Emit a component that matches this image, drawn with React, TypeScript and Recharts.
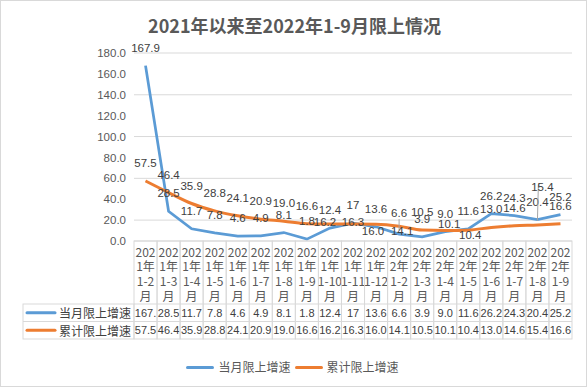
import React from 'react';
import { LineChart, Line, XAxis, YAxis, CartesianGrid, LabelList } from 'recharts';

const categories = [
  '2021年1-2月', '2021年1-3月', '2021年1-4月', '2021年1-5月', '2021年1-6月', '2021年1-7月',
  '2021年1-8月', '2021年1-9月', '2021年1-10月', '2021年1-11月', '2021年1-12月',
  '2022年1-2月', '2022年1-3月', '2022年1-4月', '2022年1-5月', '2022年1-6月', '2022年1-7月',
  '2022年1-8月', '2022年1-9月',
];
const monthly = ['167.9', '28.5', '11.7', '7.8', '4.6', '4.9', '8.1', '1.8', '12.4', '17', '13.6', '6.6', '3.9', '9.0', '11.6', '26.2', '24.3', '20.4', '25.2'];
const cumulative = ['57.5', '46.4', '35.9', '28.8', '24.1', '20.9', '19.0', '16.6', '16.2', '16.3', '16.0', '14.1', '10.5', '10.1', '10.4', '13.0', '14.6', '15.4', '16.6'];
const yTicks = [0, 20, 40, 60, 80, 100, 120, 140, 160, 180];

const seriesNames = { monthly: '当月限上增速', cumulative: '累计限上增速' };
const BLUE = '#5B9BD5';
const ORANGE = '#ED7D31';
const GRID = '#d9d9d9';
const NUM_FONT = '"Liberation Sans", Arial, sans-serif';
const CJK_FONT = '"Noto Sans CJK SC", "Noto Sans", sans-serif';

const data = categories.map((name, i) => ({
  name,
  monthly: Number(monthly[i]),
  cumulative: Number(cumulative[i]),
  monthlyText: monthly[i],
  cumulativeText: cumulative[i],
}));

const W = 587;
const H = 387;
const margin = { top: 53, right: 15, bottom: 48, left: 0 };
const Y_AXIS_W = 134;
const colW = (W - Y_AXIS_W - margin.right) / categories.length;
const headerH = 63;
const rowH = 17.5;

// hand-placed labels, like the Excel original
const nudges: Record<string, { dx: number; dy: number; leader?: boolean }> = {
  'cumulative-8': { dx: -5, dy: 16 },
  'cumulative-9': { dx: 0, dy: 16 },
  'cumulative-10': { dx: -3, dy: 25 },
  'cumulative-11': { dx: 3, dy: 23 },
  'cumulative-13': { dx: 4, dy: 12 },
  'cumulative-14': { dx: 2, dy: 23 },
  'cumulative-17': { dx: 5, dy: -20, leader: true },
  'monthly-11': { dx: 0, dy: -3, leader: true },
};

const makeLabel = (key: string) => (props: any) => {
  const vb = props.viewBox || {};
  const px = props.x ?? vb.x;
  const py = props.y ?? vb.y;
  if (px == null || py == null) return null;
  const n = nudges[`${key}-${props.index}`] || { dx: 0, dy: 0 };
  const lx = px + n.dx;
  const ly = py - 18 + n.dy;
  return (
    <g>
      {n.leader && (
        <line x1={px + (n.dx > 0 ? 1 : 0)} y1={ly + (n.dx > 0 ? -3 : 6)} x2={px} y2={py - 4} stroke="#a6a6a6" strokeWidth={1} />
      )}
      <text x={lx} y={ly} textAnchor="middle" dominantBaseline="central" fontSize={11.5} fontFamily={NUM_FONT} fill="#404040">
        {props.value}
      </text>
    </g>
  );
};

const fitCell = (s: string) => (s.length > 4 ? s.slice(0, 4) : s);

function TableTick(props: any) {
  const { x, y, payload } = props;
  const i = payload.index;
  const row = data[i];
  const left = x - colW / 2;
  const year = row.name.slice(0, 4);
  const range = row.name.slice(5, -1);
  const lines = [year.slice(0, 3), year.slice(3) + '年', range, '月'];
  const r1 = y + headerH;
  const r2 = r1 + rowH;
  const r3 = r2 + rowH;
  return (
    <g>
      <rect x={left} y={y} width={colW} height={r3 - y} fill="none" stroke={GRID} strokeWidth={1} />
      <line x1={left} x2={left + colW} y1={r1} y2={r1} stroke={GRID} />
      <line x1={left} x2={left + colW} y1={r2} y2={r2} stroke={GRID} />
      {lines.map((t, k) => (
        <text key={k} x={x} y={y + 10 + k * 14.7} textAnchor="middle" dominantBaseline="central" fontSize={12} fontFamily={CJK_FONT} fill="#595959">
          {t}
        </text>
      ))}
      <text x={x} y={r1 + rowH / 2} textAnchor="middle" dominantBaseline="central" fontSize={11} fontFamily={NUM_FONT} fill="#404040">
        {fitCell(row.monthlyText)}
      </text>
      <text x={x} y={r2 + rowH / 2} textAnchor="middle" dominantBaseline="central" fontSize={11} fontFamily={NUM_FONT} fill="#404040">
        {fitCell(row.cumulativeText)}
      </text>
      {i === 0 && (
        <g>
          <rect x={23} y={r1} width={left - 23} height={rowH * 2} fill="none" stroke={GRID} />
          <line x1={23} x2={left} y1={r2} y2={r2} stroke={GRID} />
          <line x1={27} x2={55} y1={r1 + rowH / 2} y2={r1 + rowH / 2} stroke={BLUE} strokeWidth={3} strokeLinecap="round" />
          <line x1={27} x2={55} y1={r2 + rowH / 2} y2={r2 + rowH / 2} stroke={ORANGE} strokeWidth={3} strokeLinecap="round" />
          <text x={59} y={r1 + rowH / 2} dominantBaseline="central" fontSize={12} fontFamily={CJK_FONT} fill="#404040">
            {seriesNames.monthly}
          </text>
          <text x={59} y={r2 + rowH / 2} dominantBaseline="central" fontSize={12} fontFamily={CJK_FONT} fill="#404040">
            {seriesNames.cumulative}
          </text>
        </g>
      )}
    </g>
  );
}

export default function App() {
  return (
    <div
      style={{
        position: 'absolute',
        left: 0,
        top: 0,
        width: W,
        height: H,
        background: '#fff',
        border: '1px solid #d9d9d9',
        boxSizing: 'border-box',
        overflow: 'hidden',
      }}
    >
      <div
        style={{
          position: 'absolute',
          top: 11,
          left: 0,
          width: W,
          textAlign: 'center',
          fontFamily: CJK_FONT,
          fontWeight: 'bold',
          fontSize: 18,
          color: '#595959',
          lineHeight: '26px',
        }}
      >
        2021年以来至2022年1-9月限上情况
      </div>
      <div style={{ position: 'absolute', left: -1, top: -1 }}>
        <LineChart width={W} height={H} data={data} margin={margin}>
          <CartesianGrid vertical={false} stroke={GRID} />
          <XAxis
            dataKey="name"
            interval={0}
            height={headerH + rowH * 2}
            padding={{ left: colW / 2, right: colW / 2 }}
            axisLine={false}
            tickLine={false}
            tickSize={0}
            tickMargin={0}
            tick={<TableTick />}
          />
          <YAxis
            width={Y_AXIS_W}
            domain={[0, 180]}
            ticks={yTicks}
            axisLine={false}
            tickLine={false}
            tickSize={0}
            tickMargin={8}
            tickFormatter={(v: number) => v.toFixed(1)}
            tick={{ fill: '#595959', fontSize: 11.5, fontFamily: NUM_FONT }}
          />
          <Line
            type="linear"
            dataKey="monthly"
            name={seriesNames.monthly}
            stroke={BLUE}
            strokeWidth={2.75}
            dot={false}
            isAnimationActive={false}
          >
            <LabelList dataKey="monthlyText" content={makeLabel('monthly')} />
          </Line>
          <Line
            type="monotone"
            dataKey="cumulative"
            name={seriesNames.cumulative}
            stroke={ORANGE}
            strokeWidth={3}
            dot={false}
            isAnimationActive={false}
          >
            <LabelList dataKey="cumulativeText" content={makeLabel('cumulative')} />
          </Line>
        </LineChart>
      </div>
      <div
        style={{
          position: 'absolute',
          top: 358,
          left: 0,
          width: W,
          display: 'flex',
          justifyContent: 'center',
          alignItems: 'center',
          fontFamily: CJK_FONT,
          fontSize: 12,
          color: '#595959',
          lineHeight: '16px',
        }}
      >
        {[
          { name: seriesNames.monthly, color: BLUE },
          { name: seriesNames.cumulative, color: ORANGE },
        ].map((it) => (
          <div key={it.name} style={{ display: 'flex', alignItems: 'center', marginRight: 4 }}>
            <span style={{ display: 'inline-block', width: 28, height: 3, background: it.color, borderRadius: 2, marginRight: 4 }} />
            <span>{it.name}</span>
          </div>
        ))}
      </div>
    </div>
  );
}
